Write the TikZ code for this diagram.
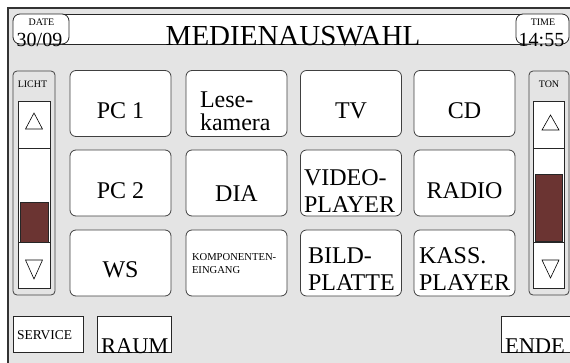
\documentclass[tikz,border=0pt]{standalone}
\usepackage{fontspec}
\setmainfont{Liberation Serif}
\usetikzlibrary{positioning}
\definecolor{screen}{RGB}{228,228,228}
\definecolor{level}{RGB}{107,52,50}

\begin{document}
\begin{tikzpicture}[x = 1pt, y = -1pt,
    every node/.style = {inner sep = 0pt, outer sep = 0pt},
    btn/.style = {draw = black!75, fill = white, rounded corners = 6pt, line width = .8pt, minimum width = 101pt, minimum height = 66pt},
    flat/.style = {draw = black!85, fill = white, line width = .8pt, minimum height = 36pt},
    clock/.style = {draw = black!85, fill = white, rounded corners = 7pt, line width = .8pt, minimum height = 30pt},
    panel/.style = {draw = black!75, fill = screen, rounded corners = 4pt, line width = .8pt, minimum height = 224pt},
    slider/.style = {draw = black!85, fill = white, line width = .8pt, minimum height = 187pt},
    knob/.style = {draw = black!85, fill = level, line width = .8pt},
    big/.style = {font = \fontsize{24}{27}\selectfont},
    tiny/.style = {font = \fontsize{10}{13}\selectfont}]
    \clip (0,0) rectangle (570,362);
    \fill[screen] (8,8) rectangle (580,372);
    \draw[line width = 1.2pt, draw = black!80] (8,372) -- (8,8) -- (580,8);
    % title bar
    \draw[fill = white, line width = .8pt, draw = black!85] (50,14) rectangle (530,44);
    \node[clock, minimum width = 56pt] (date) at (41,29) {};
    \node[clock, minimum width = 53pt] (time) at (542.5,29) {};
    \node[font = \fontsize{29}{29}\selectfont, anchor = base] (title) at (293,45) {MEDIENAUSWAHL};
    \node[tiny, anchor = base] (dateL) at (41.5,25) {DATE};
    \node[font = \fontsize{20}{20}\selectfont, anchor = base] (dateV) at (39.5,46) {30/09};
    \node[tiny, anchor = base] (timeL) at (543,25) {TIME};
    \node[font = \fontsize{20}{20}\selectfont, anchor = base] (timeV) at (541.5,46) {14:55};
    % sliders
    \node[panel, minimum width = 42pt] (LICHT) at (34,183) {};
    \node[tiny, anchor = base] (lichtL) at (32.5,87) {LICHT};
    \node[slider, minimum width = 32pt] (LS) at (34,194.5) {};
    \node[knob, minimum width = 28pt, minimum height = 40pt] (LK) at (34,222) {};
    \draw[draw = black!85, line width = .8pt] (LS.west |- 0,148) -- (LS.east |- 0,148);
    \draw[draw = black!85, line width = .8pt] (LS.west |- 0,242) -- (LS.east |- 0,242);
    \draw[line width = .6pt] (25.5,129) -- (34,113) -- (42.5,129) -- cycle;
    \draw[line width = .6pt] (25.5,260) -- (42.5,260) -- (34,279) -- cycle;
    \node[panel, minimum width = 40pt] (TON) at (549,183) {};
    \node[tiny, anchor = base] (tonL) at (549,87) {TON};
    \node[slider, minimum width = 31pt] (TS) at (548.5,194.5) {};
    \node[knob, minimum width = 27pt, minimum height = 67pt] (TK) at (548.5,207.5) {};
    \draw[draw = black!85, line width = .8pt] (TS.west |- 0,148) -- (TS.east |- 0,148);
    \draw[draw = black!85, line width = .8pt] (TS.west |- 0,242) -- (TS.east |- 0,242);
    \draw[line width = .6pt] (542,130) -- (550.5,115) -- (559,130) -- cycle;
    \draw[line width = .6pt] (542,260) -- (559,260) -- (550.5,278) -- cycle;
    % media buttons
    \node[btn] (PC1) at (120.5,103.5) {};
    \node[btn] (LESE) at (236.5,103.5) {};
    \node[btn] (TV) at (351,103.5) {};
    \node[btn] (CD) at (464.5,103.5) {};
    \node[btn] (PC2) at (120.5,183) {};
    \node[btn] (DIA) at (236.5,183) {};
    \node[btn] (VP) at (351,183) {};
    \node[btn] (RADIO) at (464.5,183) {};
    \node[btn] (WS) at (120.5,263) {};
    \node[btn] (KE) at (236.5,263) {};
    \node[btn] (BP) at (351,263) {};
    \node[btn] (KP) at (464.5,263) {};
    \node[big, anchor = base] (pc1T) at ([yshift = 18pt]PC1.south) {PC 1};
    \node[big, anchor = base west, align = left, font = \fontsize{24}{23}\selectfont] (leseT) at (200,130) {Lese-\\kamera};
    \node[big, anchor = base] (tvT) at ([yshift = 18pt]TV.south) {TV};
    \node[big, anchor = base] (cdT) at ([yshift = 18pt]CD.south) {CD};
    \node[big, anchor = base] (pc2T) at ([yshift = 18pt]PC2.south) {PC 2};
    \node[big, anchor = base] (diaT) at ([yshift = 15pt]DIA.south) {DIA};
    \node[big, anchor = base west, align = left] (vpT) at (304,212) {VIDEO-\\PLAYER};
    \node[big, anchor = base] (radioT) at ([yshift = 18pt]RADIO.south) {RADIO};
    \node[big, anchor = base] (wsT) at ([yshift = 19pt]WS.south) {WS};
    \node[font = \fontsize{10.6}{13}\selectfont, anchor = base west, align = left] (keT) at (192,273) {KOMPONENTEN-\\EINGANG};
    \node[big, anchor = base west, align = left] (bpT) at (308,290) {BILD-\\PLATTE};
    \node[big, anchor = base west, align = left] (kpT) at (419,290) {KASS.\\PLAYER};
    % bottom row
    \node[flat, minimum width = 70pt] (SERVICE) at (48,334) {};
    \node[flat, minimum width = 74pt] (RAUM) at (134,334) {};
    \node[flat, minimum width = 74pt] (ENDE) at (538,334) {};
    \node[font = \fontsize{13.5}{13.5}\selectfont, anchor = base west] (serviceT) at (17,339) {SERVICE};
    \node[font = \fontsize{22.5}{22.5}\selectfont, anchor = base west] (raumT) at (101,353) {RAUM};
    \node[font = \fontsize{22.5}{22.5}\selectfont, anchor = base west] (endeT) at (505,353) {ENDE};
\end{tikzpicture}
\end{document}
